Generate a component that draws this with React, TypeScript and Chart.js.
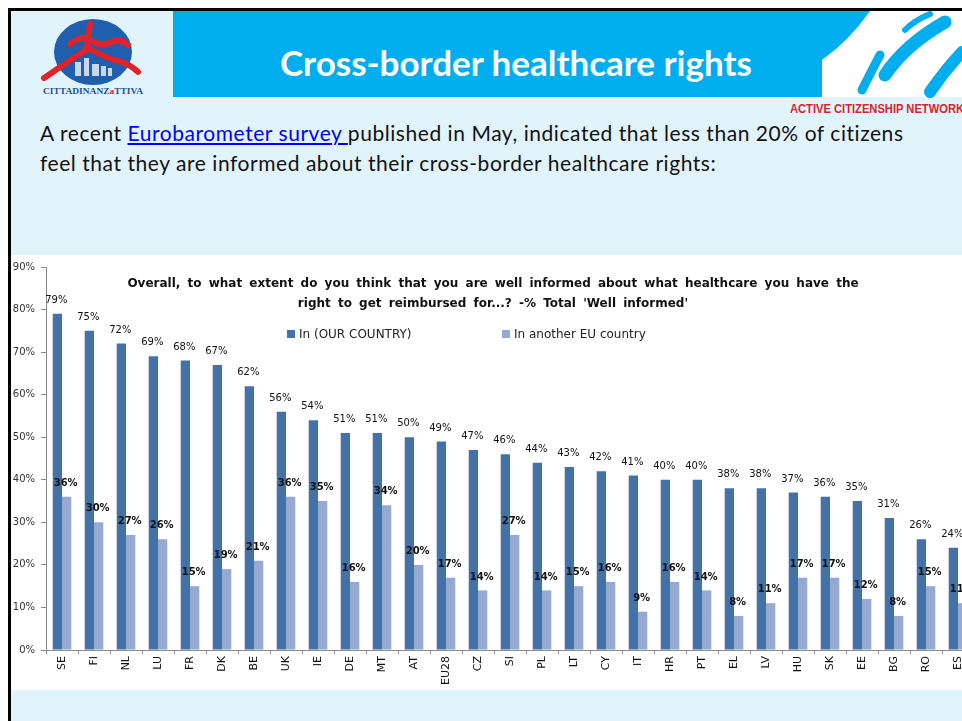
import React, { useEffect, useRef } from "react";
import { Chart, registerables } from "chart.js";

Chart.register(...registerables);

const categories = ["SE","FI","NL","LU","FR","DK","BE","UK","IE","DE","MT","AT","EU28","CZ","SI","PL","LT","CY","IT","HR","PT","EL","LV","HU","SK","EE","BG","RO","ES"];
const ownCountry = [79,75,72,69,68,67,62,56,54,51,51,50,49,47,46,44,43,42,41,40,40,38,38,37,36,35,31,26,24];
const anotherEU = [36,30,27,26,15,19,21,36,35,16,34,20,17,14,27,14,15,16,9,16,14,8,11,17,17,12,8,15,11];
const seriesNames = ["In (OUR COUNTRY)", "In another EU country"];
const yTicks = [0,10,20,30,40,50,60,70,80,90];
const chartTitle = [
  "Overall, to what extent do you think that you are well informed about what healthcare you have the",
  "right to get reimbursed for...? -% Total 'Well informed'",
];

const DARK = "#4471a6";
const LIGHT = "#95a9d1";
const FONT = '"DejaVu Sans", Verdana, sans-serif';

const labelPlugin = {
  id: "barLabels",
  afterDatasetsDraw(chart: any) {
    const ctx = chart.ctx;
    ctx.save();
    chart.data.datasets.forEach((ds: any, i: number) => {
      const meta = chart.getDatasetMeta(i);
      ctx.font = (i === 0 ? "" : "bold ") + "10px " + FONT;
      ctx.fillStyle = "#111";
      ctx.textAlign = "center";
      ctx.textBaseline = "middle";
      meta.data.forEach((el: any, j: number) => {
        ctx.fillText(ds.data[j] + "%", el.x - 1, el.y - 13.5);
      });
    });
    ctx.restore();
  },
};

function BarChart() {
  const ref = useRef<HTMLCanvasElement>(null);
  useEffect(() => {
    const chart = new Chart(ref.current as HTMLCanvasElement, {
      type: "bar",
      data: {
        labels: categories,
        datasets: [
          { label: seriesNames[0], data: ownCountry, backgroundColor: DARK, categoryPercentage: 0.58, barPercentage: 1 },
          { label: seriesNames[1], data: anotherEU, backgroundColor: LIGHT, categoryPercentage: 0.58, barPercentage: 1 },
        ],
      },
      options: {
        animation: false,
        responsive: false,
        layout: { padding: { top: 10, right: 7, left: 0, bottom: 0 } },
        plugins: { legend: { display: false }, title: { display: false }, tooltip: { enabled: false } },
        scales: {
          x: {
            grid: { display: true, drawOnChartArea: false, drawTicks: true, tickLength: 4, color: "#8a8a8a", offset: true },
            border: { display: true, color: "#8a8a8a" },
            ticks: { minRotation: 90, maxRotation: 90, autoSkip: false, padding: 2, color: "#111", font: { family: FONT, size: 11 } },
            afterFit: (s: any) => { s.height = 40; },
          },
          y: {
            min: 0,
            max: 90,
            afterBuildTicks: (s: any) => { s.ticks = yTicks.map((v) => ({ value: v })); },
            grid: { display: true, drawOnChartArea: false, drawTicks: true, tickLength: 5, color: "#8a8a8a" },
            border: { display: true, color: "#8a8a8a" },
            ticks: { padding: 6, color: "#333", font: { family: FONT, size: 10 }, callback: (v: any) => v + "%" },
            afterFit: (s: any) => { s.width = 35; },
          },
        },
      },
      plugins: [labelPlugin],
    });
    return () => chart.destroy();
  }, []);
  return <canvas ref={ref} width={970} height={435} style={{ position: "absolute", left: 0, top: 244, width: 970, height: 435 }} />;
}

export default function App() {
  // container's inner origin is at absolute (11, 11)
  return (
    <div style={{ position: "fixed", left: 8, top: 8, right: 0, bottom: 0, overflow: "hidden", background: "#e1f4fc", borderLeft: "3px solid #000", borderTop: "3px solid #000" }}>
      <svg width={962} height={130} style={{ position: "absolute", left: -11, top: -11 }}>
        <rect x={173} y={11} width={800} height={86} fill="#00aeef" />
        <rect x={822} y={11} width={150} height={86} fill="#ffffff" />
        <path d="M822 11 L870 11 Q850 40 822 60 Z" fill="#00aeef" />
        <path d="M885 75 Q905 45 945 22" stroke="#00aeef" strokeWidth={13} strokeLinecap="round" fill="none" />
        <path d="M862 90 Q872 70 880 55" stroke="#00aeef" strokeWidth={9} strokeLinecap="round" fill="none" />
        <path d="M930 92 Q945 70 962 52" stroke="#00aeef" strokeWidth={12} strokeLinecap="round" fill="none" />
        <path d="M905 30 Q915 20 930 14" stroke="#00aeef" strokeWidth={6} strokeLinecap="round" fill="none" />
        <ellipse cx={93} cy={52} rx={39} ry={33} fill="#1f5fae" />
        <g fill="#c9d6ec">
          <rect x={75} y={62} width={6} height={14} />
          <rect x={84} y={58} width={5} height={18} />
          <rect x={92} y={64} width={7} height={12} />
          <rect x={101} y={66} width={5} height={10} />
          <rect x={108} y={68} width={4} height={8} />
        </g>
        <path d="M70 44 Q82 34 90 40 Q100 47 112 42 Q120 38 128 45" stroke="#e0222b" strokeWidth={6} strokeLinecap="round" fill="none" />
        <path d="M90 24 Q88 40 86 50 Q70 60 50 74 L44 78" stroke="#e0222b" strokeWidth={6} strokeLinecap="round" fill="none" />
        <path d="M88 48 Q105 58 122 62 Q132 66 138 72" stroke="#e0222b" strokeWidth={6} strokeLinecap="round" fill="none" />
        <text x={43} y={94} fontFamily="Liberation Serif, serif" fontWeight="bold" fontSize={9} fill="#1f4f92" textLength={100} lengthAdjust="spacingAndGlyphs">CITTADINANZ<tspan fill="#e0222b">a</tspan>TTIVA</text>
      </svg>
      <div style={{ position: "absolute", left: 269, top: 31, fontFamily: "Lato, sans-serif", fontWeight: 700, fontSize: 35, color: "#fff", whiteSpace: "nowrap", lineHeight: "40px" }}>
        Cross-border healthcare rights
      </div>
      <div style={{ position: "absolute", left: 779, top: 91, fontFamily: '"Liberation Sans", Arial, sans-serif', fontWeight: 700, fontSize: 12, color: "#d9232d", whiteSpace: "nowrap", transform: "scaleX(0.93)", transformOrigin: "left top", lineHeight: "14px" }}>
        ACTIVE CITIZENSHIP NETWORK
      </div>
      <div style={{ position: "absolute", left: 29, top: 107, fontFamily: "Lato, sans-serif", fontSize: 21, letterSpacing: 0.55, color: "#111", whiteSpace: "nowrap", lineHeight: "30px" }}>
        <div>
          A recent <span style={{ color: "#0000ff", textDecoration: "underline" }}>Eurobarometer survey </span>published in May, indicated that less than 20% of citizens
        </div>
        <div>feel that they are informed about their cross-border healthcare rights:</div>
      </div>
      <div style={{ position: "absolute", left: 0, top: 244, width: 1000, height: 435, background: "#fff" }} />
      <BarChart />
      <div style={{ position: "absolute", left: 0, top: 262, width: 964, textAlign: "center", fontFamily: FONT, fontWeight: 700, fontSize: 12, wordSpacing: 3, color: "#111", lineHeight: "20px", whiteSpace: "nowrap" }}>
        <div>{chartTitle[0]}</div>
        <div>{chartTitle[1]}</div>
      </div>
      <div style={{ position: "absolute", left: 276, top: 315, fontFamily: FONT, fontSize: 12, color: "#222", whiteSpace: "nowrap", lineHeight: "16px" }}>
        <span style={{ display: "inline-block", width: 8, height: 8, background: DARK, marginRight: 4 }} />
        {seriesNames[0]}
      </div>
      <div style={{ position: "absolute", left: 491, top: 315, fontFamily: FONT, fontSize: 12, color: "#222", whiteSpace: "nowrap", lineHeight: "16px" }}>
        <span style={{ display: "inline-block", width: 8, height: 8, background: LIGHT, marginRight: 4 }} />
        {seriesNames[1]}
      </div>
    </div>
  );
}
